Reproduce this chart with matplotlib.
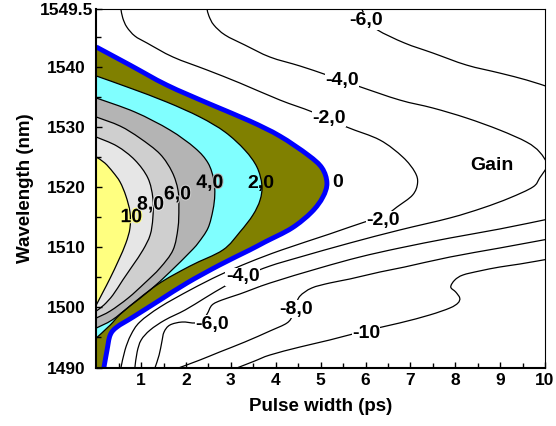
import numpy as np
import matplotlib
matplotlib.use('Agg')
import matplotlib.pyplot as plt
import matplotlib.patheffects as pe
from matplotlib.path import Path
from matplotlib.patches import PathPatch

plt.rcParams['font.family'] = ['Liberation Sans', 'DejaVu Sans']
plt.rcParams['font.weight'] = 'bold'

# contour lines: x = pulse width (ps), y = wavelength (nm)
# positive gain levels, each runs from the left axis round its nose and back
g10_x = [0, 0.19, 0.37, 0.53, 0.66, 0.75, 0.75, 0.66, 0.50, 0.31, 0.15, 0]
g10_y = [1524.98, 1523.99, 1522.49, 1520.83, 1518.50, 1515.84, 1513.18,
         1510.69, 1507.87, 1504.87, 1502.55, 1500.39]

g8_x = [0, 0.46, 0.86, 1.15, 1.26, 1.26, 1.20, 1.04, 0.82, 0.59, 0.37, 0.17, 0]
g8_y = [1528.30, 1526.80, 1524.48, 1521.49, 1518.17, 1514.85, 1512.02,
        1509.53, 1507.04, 1504.54, 1502.05, 1500.39, 1499.39]

g6_x = [0, 0.53, 0.97, 1.42, 1.69, 1.82, 1.84, 1.82, 1.71, 1.42, 1.08, 0.71, 0.31, 0]
g6_y = [1531.63, 1530.13, 1528.13, 1525.48, 1522.49, 1519.50, 1516.51,
        1513.18, 1509.53, 1506.54, 1504.04, 1501.55, 1499.39, 1498.23]

g4_x = [0, 0.86, 1.64, 2.20, 2.49, 2.62, 2.64, 2.60, 2.49, 2.27, 2.09, 1.64,
        1.20, 0.75, 0.35, 0]
g4_y = [1534.79, 1532.46, 1529.47, 1526.47, 1523.99, 1521.16, 1518.67,
        1516.18, 1513.18, 1510.69, 1509.19, 1505.87, 1502.88, 1500.22,
        1497.89, 1496.56]

g2_x = [0, 0.75, 1.57, 2.31, 2.87, 3.31, 3.58, 3.69, 3.65, 3.49, 3.20, 2.82,
        2.09, 1.35, 0.59, 0.31, 0]
g2_y = [1538.45, 1536.45, 1534.12, 1531.63, 1529.13, 1526.14, 1523.32,
        1520.33, 1517.84, 1515.34, 1512.52, 1509.53, 1506.87, 1503.71,
        1499.22, 1497.06, 1494.90]

g0_x = [0, 0.75, 1.57, 2.53, 3.42, 4.09, 4.72, 5.03, 5.14, 5.05, 4.80, 4.36,
        3.76, 3.42, 2.75, 2.02, 1.42, 0.82, 0.46, 0.31, 0.24, 0.17]
g0_y = [1543.27, 1540.27, 1536.95, 1533.79, 1530.97, 1528.47, 1525.31,
        1523.16, 1520.66, 1518.34, 1515.84, 1513.18, 1510.86, 1509.53,
        1507.04, 1504.04, 1501.22, 1498.39, 1496.73, 1495.40, 1492.91, 1490.0]

# negative gain levels
m2_x = [0.55, 0.59, 0.68, 0.86, 1.13, 1.71, 2.47, 3.20, 4.09, 4.82, 5.58, 6.32,
        6.83, 7.10, 7.16, 7.05, 6.70, 6.39, 5.98, 5.20, 4.13, 3.42, 2.75, 2.09,
        1.42, 0.97, 0.77, 0.64, 0.55]
m2_y = [1549.5, 1548.08, 1546.59, 1545.09, 1543.93, 1541.60, 1539.44, 1537.28,
        1534.46, 1532.46, 1529.97, 1527.81, 1524.98, 1522.49, 1520.66, 1518.67,
        1516.67, 1515.01, 1514.18, 1512.19, 1509.53, 1507.53, 1505.37, 1502.88,
        1500.05, 1497.56, 1495.40, 1492.91, 1490.0]

m4_x = [2.47, 2.51, 2.62, 2.87, 3.31, 3.87, 4.54, 5.14, 5.83, 6.76, 7.50, 8.25,
        8.99, 9.59, 9.88, 10.04, 9.88, 9.73, 9.21, 8.61, 7.88, 6.76, 5.65, 4.54,
        3.87, 3.31, 2.87, 2.42, 1.98, 1.53, 1.20, 1.00, 0.91, 0.86]
m4_y = [1549.5, 1548.42, 1546.92, 1545.26, 1543.60, 1541.60, 1540.11, 1538.61,
        1536.78, 1534.46, 1533.13, 1531.47, 1529.47, 1527.47, 1525.81, 1523.65,
        1521.49, 1520.00, 1518.17, 1516.51, 1514.85, 1512.85, 1510.69, 1508.36,
        1506.87, 1505.21, 1503.54, 1501.55, 1499.56, 1497.89, 1496.23, 1494.57,
        1492.58, 1490.0]

m6a_x = [5.92, 6.05, 6.27, 6.87, 7.50, 8.25, 8.99, 9.59, 10.08]
m6a_y = [1549.5, 1547.75, 1546.09, 1543.93, 1542.27, 1540.27, 1538.94,
         1537.78, 1536.62]

m6b_x = [1.31, 1.40, 1.46, 1.51, 1.64, 1.91, 2.20, 2.36, 2.47, 2.58, 2.80, 3.20,
         3.87, 4.98, 5.87, 6.76, 7.88, 8.99, 10.08]
m6b_y = [1490.0, 1492.08, 1494.24, 1495.90, 1497.06, 1497.56, 1497.40, 1497.89,
         1498.90, 1500.39, 1501.22, 1502.22, 1504.04, 1506.54, 1508.36, 1509.86,
         1511.52, 1513.02, 1514.68]

m8_x = [1.86, 2.31, 2.75, 3.31, 3.87, 4.25, 4.38, 4.45, 4.54, 4.80, 5.20, 5.65,
        6.32, 6.87, 7.88, 8.99, 10.08]
m8_y = [1490.0, 1491.25, 1492.58, 1494.24, 1496.07, 1497.40, 1498.73, 1500.39,
        1501.88, 1503.21, 1504.04, 1504.71, 1505.87, 1506.70, 1508.36, 1509.86,
        1511.36]

m10_x = [3.16, 3.53, 3.87, 4.54, 5.20, 5.98, 6.76, 7.43, 7.88, 8.06, 8.10, 8.01,
         7.90, 7.99, 8.17, 8.54, 8.99, 9.44, 10.08]
m10_y = [1490.0, 1491.08, 1492.08, 1493.41, 1494.57, 1496.07, 1497.40, 1498.73,
         1499.89, 1500.72, 1501.55, 1502.55, 1503.38, 1504.54, 1505.37, 1506.04,
         1506.70, 1507.20, 1508.03]

# contour labels: text, x, y (and the band colour behind the filled ones)
fill_labels = [("10", 0.78, 1514.9, '#ffff80'), ("8,0", 1.21, 1517.0, '#e6e6e6'),
               ("6,0", 1.81, 1518.7, '#cfcfcf'), ("4,0", 2.53, 1520.6, '#b4b4b4'),
               ("2,0", 3.67, 1520.6, None)]
white_labels = [("0", 5.38, 1520.75), ("-2,0", 5.18, 1531.4), ("-4,0", 5.48, 1537.7),
                ("-6,0", 6.01, 1547.6), ("-2,0", 6.40, 1514.5), ("-4,0", 3.26, 1505.1),
                ("-6,0", 2.58, 1497.2), ("-8,0", 4.46, 1499.7), ("-10", 6.01, 1495.6)]


def smooth_path(xs, ys, extra=(), close=False):
    # Catmull-Rom curve through the read points, as cubic Bezier segments
    p = np.column_stack([xs, ys]).astype(float)
    ext = np.vstack([p[0], p, p[-1]])
    verts = [p[0]]
    codes = [Path.MOVETO]
    for i in range(len(p) - 1):
        p0, p1, p2, p3 = ext[i], ext[i + 1], ext[i + 2], ext[i + 3]
        verts += [p1 + (p2 - p0) / 6, p2 - (p3 - p1) / 6, p2]
        codes += [Path.CURVE4] * 3
    for e in extra:
        verts.append(e)
        codes.append(Path.LINETO)
    if close:
        verts.append(p[0])
        codes.append(Path.CLOSEPOLY)
    return Path(verts, codes)


fig = plt.figure(figsize=(5.56, 4.26), dpi=100)
ax = fig.add_axes([0.1732, 0.1373, 0.807, 0.8404])

# filled bands, outermost first
bands = [(g0_x, g0_y, '#808000', [(0, 1490.0)]),
         (g2_x, g2_y, '#80ffff', []),
         (g4_x, g4_y, '#b4b4b4', []),
         (g6_x, g6_y, '#cfcfcf', []),
         (g8_x, g8_y, '#e6e6e6', []),
         (g10_x, g10_y, '#ffff80', [])]
for xs, ys, c, corner in bands:
    ax.add_patch(PathPatch(smooth_path(xs, ys, corner, close=True),
                           facecolor=c, edgecolor='none', zorder=1))

for xs, ys in [(g2_x, g2_y), (g4_x, g4_y), (g6_x, g6_y), (g8_x, g8_y), (g10_x, g10_y),
               (m2_x, m2_y), (m4_x, m4_y), (m6a_x, m6a_y), (m6b_x, m6b_y),
               (m8_x, m8_y), (m10_x, m10_y)]:
    ax.add_patch(PathPatch(smooth_path(xs, ys), facecolor='none',
                           edgecolor='black', lw=0.9, zorder=2))
ax.add_patch(PathPatch(smooth_path(g0_x, g0_y), facecolor='none',
                       edgecolor='#0000ff', lw=3.5, zorder=2, capstyle='butt'))

for txt, x, y, c in fill_labels:
    effects = [pe.withStroke(linewidth=1.5, foreground=c)] if c else None
    ax.text(x, y, txt, fontsize=14, fontweight='bold', ha='center', va='center',
            zorder=4, path_effects=effects)
for txt, x, y in white_labels:
    ax.text(x, y, txt, fontsize=14, fontweight='bold', ha='center', va='center',
            zorder=4, bbox=dict(facecolor='white', edgecolor='none', pad=0.3))
ax.text(8.82, 1523.65, "Gain", fontsize=14, fontweight='bold', ha='center',
        va='center', zorder=4)

ax.set_xlim(0, 10)
ax.set_ylim(1490, 1549.5)
ax.set_xticks(range(1, 11))
ax.set_xticks(np.arange(0.5, 10.01, 0.5), minor=True)
ax.set_yticks([1490, 1500, 1510, 1520, 1530, 1540, 1549.5])
ax.set_yticklabels(['1490', '1500', '1510', '1520', '1530', '1540', '1549.5'])
ax.set_yticks(np.arange(1495, 1549, 5), minor=True)
ax.tick_params(which='both', direction='in', top=False, right=False, width=1)
ax.tick_params(which='major', length=4.5, labelsize=12.5)
ax.tick_params(which='minor', length=3.5)
ax.tick_params(axis='x', pad=4)
ax.tick_params(axis='y', pad=21.5)
for lab in ax.get_yticklabels():
    lab.set_horizontalalignment('center')
    lab.set_fontweight('bold')
for lab in ax.get_xticklabels():
    lab.set_fontweight('bold')

for side in ['left', 'bottom']:
    ax.spines[side].set_linewidth(1.5)
for side in ['top', 'right']:
    ax.spines[side].set_linewidth(0.8)
for s in ax.spines.values():
    s.set_zorder(5)

ax.set_xlabel("Pulse width (ps)", fontsize=13.5, fontweight='bold', labelpad=7)
ax.set_ylabel("Wavelength (nm)", fontsize=13.5, fontweight='bold', labelpad=4)

fig.savefig("out.png", dpi=100)
